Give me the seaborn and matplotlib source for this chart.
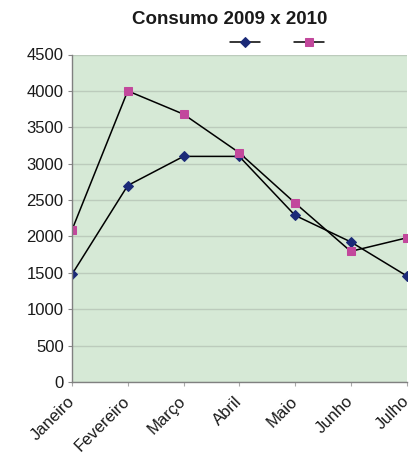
import matplotlib
matplotlib.use("Agg")
import matplotlib.pyplot as plt
import seaborn as sns
import pandas as pd

meses = ["Janeiro", "Fevereiro", "Março", "Abril", "Maio", "Junho", "Julho"]
consumo_2009 = [1480, 2700, 3100, 3100, 2290, 1925, 1460]
consumo_2010 = [2090, 4000, 3680, 3150, 2460, 1795, 1980]
yticks = [0, 500, 1000, 1500, 2000, 2500, 3000, 3500, 4000, 4500]

sns.set_style("white")
plt.rcParams["font.family"] = ["Liberation Sans", "DejaVu Sans"]

df = pd.DataFrame({
    "mes": meses * 2,
    "pos": list(range(len(meses))) * 2,
    "valor": consumo_2009 + consumo_2010,
    "ano": ["2009"] * len(meses) + ["2010"] * len(meses),
})

fig = plt.figure(figsize=(4.19, 4.53), dpi=100)
ax = fig.add_axes([72 / 419, 1 - 382 / 453, (406.5 - 72) / 419, (382 - 54.5) / 453])
ax.set_facecolor("#d6e9d6")

sns.lineplot(data=df[df.ano == "2009"], x="pos", y="valor", ax=ax, color="black",
             linewidth=1.1, marker="D", markersize=5, markerfacecolor="#1b2a78",
             markeredgecolor="#1b2a78", sort=False, label="_a", legend=False)
sns.lineplot(data=df[df.ano == "2010"], x="pos", y="valor", ax=ax, color="black",
             linewidth=1.1, marker="s", markersize=6, markerfacecolor="#c2489c",
             markeredgecolor="#c2489c", sort=False, label="_b", legend=False)

ax.set_xlim(0, len(meses) - 1)
ax.set_ylim(0, 4500)
ax.set_yticks(yticks)
ax.set_xticks(range(len(meses)))
ax.set_xticklabels(meses, rotation=45, ha="right", va="center", rotation_mode="anchor",
                   fontsize=12, color="#1a1a1a")
ax.tick_params(axis="y", labelsize=12, labelcolor="#1a1a1a", length=3, color="#888888",
               direction="out", left=True, pad=3)
ax.tick_params(axis="x", length=3, color="#aaaaaa", direction="out", bottom=True, pad=9)
ax.yaxis.grid(True, color="#bccbbc", linewidth=1)
ax.set_axisbelow(True)
ax.set_xlabel("")
ax.set_ylabel("")
for s in ["top", "right"]:
    ax.spines[s].set_visible(False)
for s in ["left", "bottom"]:
    ax.spines[s].set_color("#808080")
    ax.spines[s].set_linewidth(1)

fig.suptitle("Consumo 2009 x 2010", x=230 / 419, y=1 - 20 / 453, va="center",
             fontsize=13.5, fontweight="bold", color="#1a1a1a")

handles = ax.get_lines()[:2]
fig.legend(handles, ["", ""], loc="center", bbox_to_anchor=(277 / 419, 1 - 43 / 453),
           ncol=2, frameon=False, handlelength=2.2, handletextpad=0, columnspacing=2.4,
           fontsize=10)

fig.savefig("out.png", dpi=100)
